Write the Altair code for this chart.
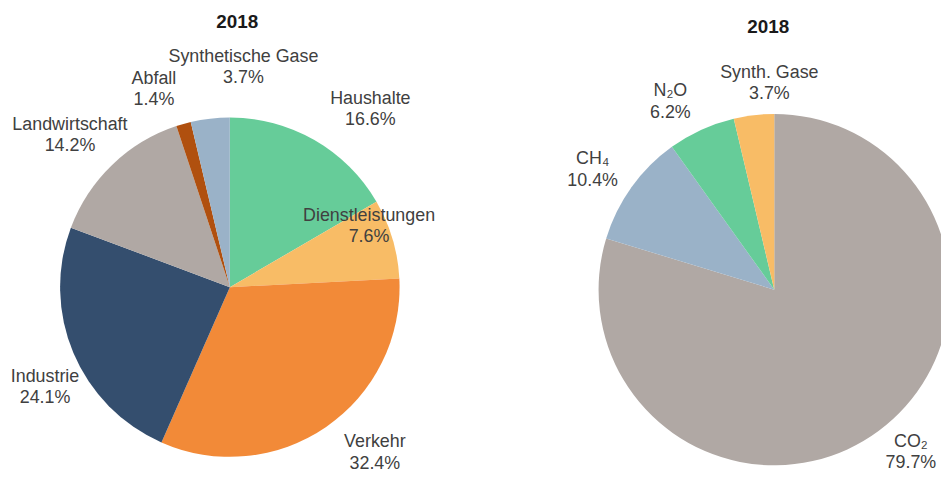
import altair as alt
import pandas as pd

# ---- data ----
titles = ["2018", "2018"]

sectors = ["Haushalte", "Dienstleistungen", "Verkehr", "Industrie",
           "Landwirtschaft", "Abfall", "Synthetische Gase"]
sector_share = [16.6, 7.6, 32.4, 24.1, 14.2, 1.4, 3.7]

gases = ["CO₂", "CH₄", "N₂O", "Synth. Gase"]
gas_share = [79.7, 10.4, 6.2, 3.7]

# ---- styles ----
sector_colors = ["#66CC99", "#F8BC66", "#F28A38", "#344E6E",
                 "#B0A8A4", "#B0500F", "#9AB2C8"]
gas_colors = ["#B0A8A4", "#9AB2C8", "#66CC99", "#F8BC66"]

FONT = "Liberation Sans"
LABEL_COLOR = "#404040"
LINE_H = 21.5

# label placement (layout only): angular nudge in degrees, radial distance in px
left_label_layout = {
    "Haushalte": (8.5, 228), "Dienstleistungen": (-7, 153), "Verkehr": (-6.6, 222),
    "Industrie": (-5.7, 212), "Landwirtschaft": (-2.6, 222), "Abfall": (-5.2, 213),
    "Synthetische Gase": (10.2, 222),
}
right_label_layout = {
    "CO₂": (-3.5, 214), "CH₄": (-2.3, 219), "N₂O": (-4.5, 216), "Synth. Gase": (5.3, 208),
}


def layout_expr(layout, k, default):
    expr = str(default)
    for name, vals in reversed(list(layout.items())):
        expr = f"datum.name == '{name}' ? {vals[k]} : ({expr})"
    return expr


left_df = pd.DataFrame({
    "name": sectors,
    "share": sector_share,
    "idx": list(range(len(sectors))),
})
left_df["label"] = [f"{n}\n{s:.1f}%" for n, s in zip(sectors, sector_share)]

right_df = pd.DataFrame({
    "name": gases,
    "share": gas_share,
    "idx": list(range(len(gases))),
})
right_df["label"] = [f"{n}\n{s:.1f}%" for n, s in zip(gases, gas_share)]

color_scale = alt.Scale(domain=sectors + gases, range=sector_colors + gas_colors)

LX, LY, LR = 223.5, 279.5, 171
RX, RY, RR = 772, 282, 177


def pie(df, cx, cy, r, layout):
    arcs = alt.Chart(df).mark_arc(radius=r, stroke=None).encode(
        theta=alt.Theta("share:Q", stack=True),
        color=alt.Color("name:N", scale=color_scale, legend=None),
        order=alt.Order("idx:Q", sort="ascending"),
        x=alt.value(cx),
        y=alt.value(cy),
    )
    labels = alt.Chart(df).transform_joinaggregate(
        total="sum(share)"
    ).transform_window(
        cum="sum(share)", sort=[alt.SortField("idx", order="ascending")],
        frame=[None, 0],
    ).transform_calculate(
        shift=layout_expr(layout, 0, 0),
        lr=layout_expr(layout, 1, 220),
    ).transform_calculate(
        mid="(datum.cum - datum.share / 2) / datum.total * 2 * PI + datum.shift * PI / 180",
    ).mark_text(
        font=FONT, fontSize=18, color=LABEL_COLOR, align="center",
        baseline="middle", lineBreak="\n", lineHeight=LINE_H, dy=-LINE_H / 2,
    ).encode(
        theta=alt.Theta("mid:Q", scale=None),
        radius=alt.Radius("lr:Q", scale=None),
        text="label:N",
        x=alt.value(cx),
        y=alt.value(cy),
    )
    return arcs, labels


la, ll = pie(left_df, LX, LY, LR, left_label_layout)
ra, rl = pie(right_df, RX, RY, RR, right_label_layout)

t1 = alt.Chart(pd.DataFrame({"t": [titles[0]]})).mark_text(
    font=FONT, fontSize=19, fontWeight="bold", color="#1a1a1a",
    align="center", baseline="middle",
).encode(text="t:N", x=alt.value(231), y=alt.value(12))

t2 = alt.Chart(pd.DataFrame({"t": [titles[1]]})).mark_text(
    font=FONT, fontSize=19, fontWeight="bold", color="#1a1a1a",
    align="center", baseline="middle",
).encode(text="t:N", x=alt.value(766), y=alt.value(17))

chart = alt.layer(la, ra, ll, rl, t1, t2).properties(
    width=940, height=464,
    autosize=alt.AutoSizeParams(type="none"),
    padding=0,
    background="white",
).configure_view(stroke=None)

chart.save("out.html", embed_options={"renderer": "svg", "actions": False})
